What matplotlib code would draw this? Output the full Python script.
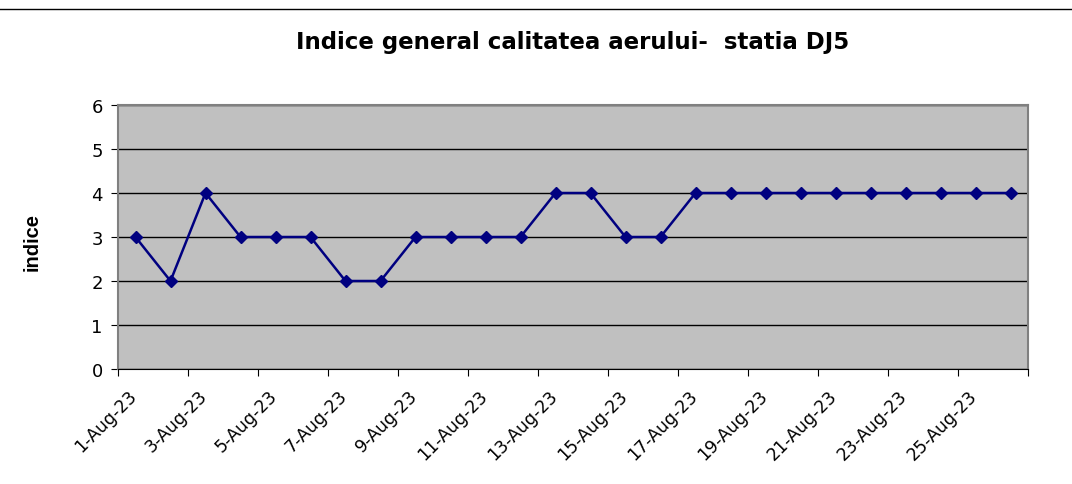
import matplotlib.pyplot as plt
from matplotlib.lines import Line2D
from matplotlib.transforms import ScaledTranslation

plt.rcParams['font.family'] = ['DejaVu Sans']

days = [f"{d}-Aug-23" for d in range(1, 27)]
indice = [3, 2, 4, 3, 3, 3, 2, 2, 3, 3, 3, 3, 4, 4, 3, 3,
          4, 4, 4, 4, 4, 4, 4, 4, 4, 4]
y_ticks = [0, 1, 2, 3, 4, 5, 6]


def main():
	fig = plt.figure(figsize=(10.72, 4.85), dpi=100)
	ax = fig.add_axes([118 / 1072, 115 / 485, 910 / 1072, 264 / 485])

	# separator line across the top of the page
	fig.add_artist(Line2D([0, 1], [1 - 10 / 485, 1 - 10 / 485], color='black', lw=1))

	ax.set_facecolor('#C0C0C0')
	x = [i + 0.5 for i in range(len(days))]
	ax.plot(x, indice, color='#000080', lw=1.8, marker='D', markersize=6.5, zorder=3)

	ax.set_xlim(0, len(days))
	ax.set_ylim(0, 6)
	ax.set_yticks(y_ticks)
	ax.yaxis.grid(True, color='black', lw=1)
	ax.set_axisbelow(True)

	pos = list(range(0, len(days) + 1, 2))
	labels = [days[p] if p < len(days) else '' for p in pos]
	ax.set_xticks(pos)
	ax.set_xticklabels(labels, rotation=45, ha='right', rotation_mode='anchor', fontsize=12.5)
	ax.tick_params(axis='x', direction='out', length=5, pad=5)
	ax.tick_params(axis='y', direction='out', length=5, labelsize=13, pad=6)

	# nudge date labels a little to the right, like in the original
	shift = ScaledTranslation(10 / 100, -3 / 100, fig.dpi_scale_trans)
	for lbl in ax.get_xticklabels():
		lbl.set_transform(lbl.get_transform() + shift)

	for side in ['top', 'right', 'left']:
		ax.spines[side].set_color('#808080')
		ax.spines[side].set_linewidth(1.5)
	ax.spines['bottom'].set_color('black')

	ax.set_ylabel("indice", fontsize=14.5, fontweight='bold',
	              family=['Liberation Sans', 'DejaVu Sans'])
	ax.yaxis.set_label_coords(-76 / 910, 128 / 264)
	fig.text(573 / 1072, 1 - 43 / 485, "Indice general calitatea aerului-  statia DJ5",
	         ha='center', va='center', fontsize=16.5, fontweight='bold')

	plt.savefig("out.png", dpi=100)


if __name__ == '__main__':
	main()
